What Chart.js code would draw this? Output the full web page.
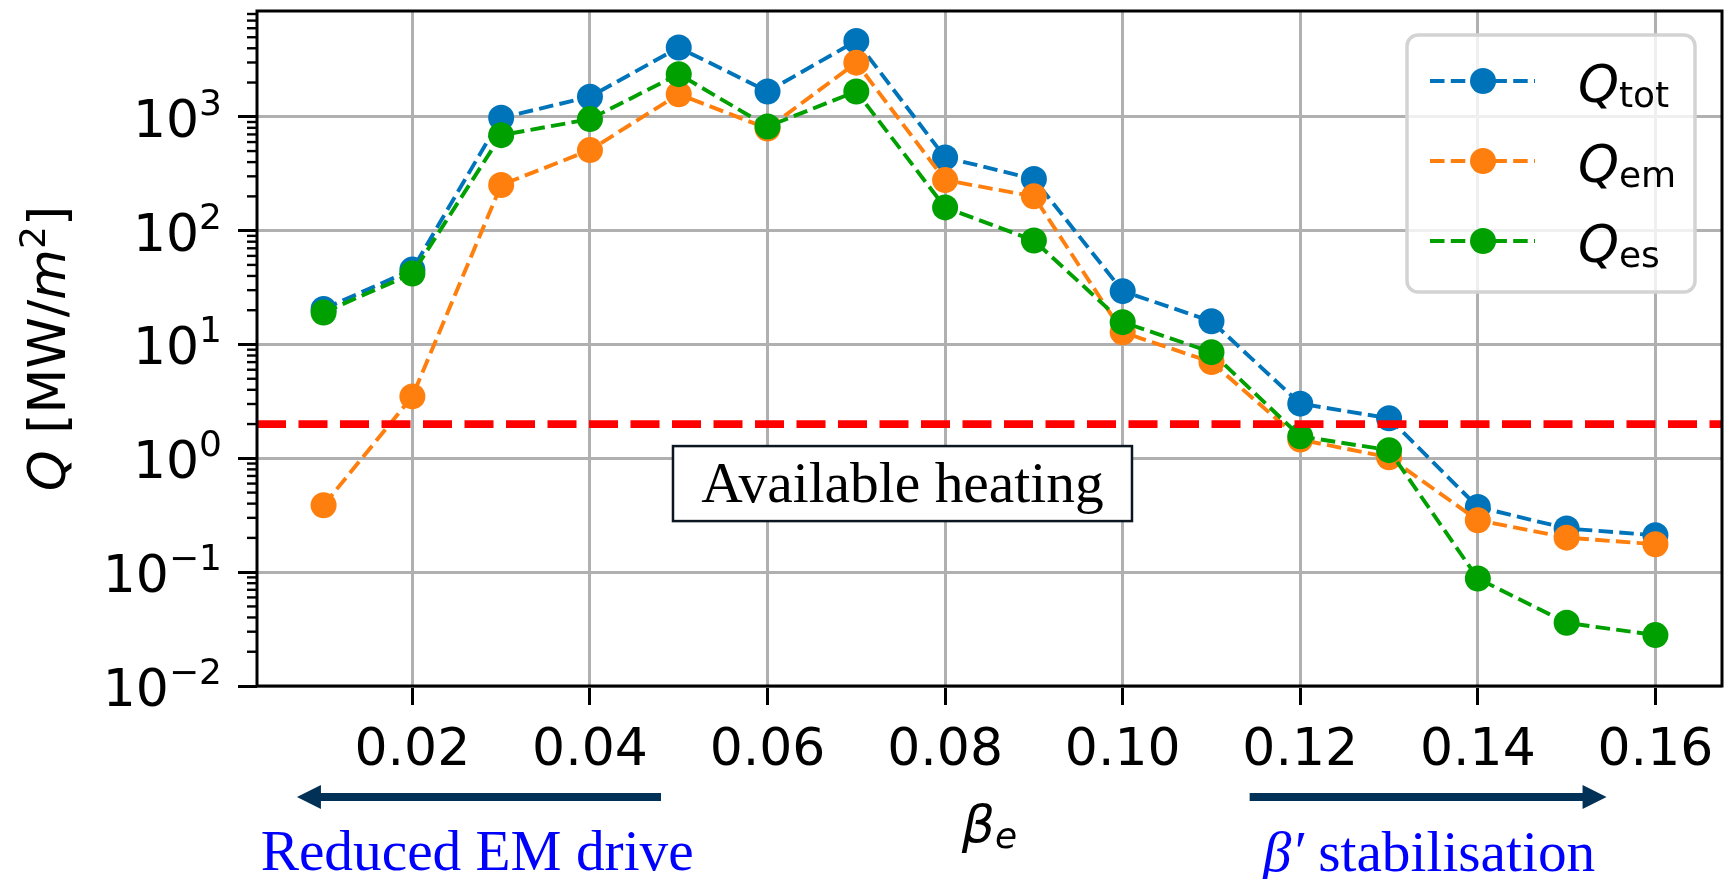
<!DOCTYPE html>
<html>
<head>
<meta charset="utf-8">
<script src="https://cdn.jsdelivr.net/npm/chart.js@4.4.1/dist/chart.umd.min.js"></script>
<style>
  html, body { margin: 0; padding: 0; background: #ffffff; }
  #wrap { width: 1725px; height: 879px; position: relative; }
  canvas { display: block; }
</style>
</head>
<body>
<div id="wrap"><canvas id="chart" width="1725" height="879"></canvas></div>
<script>
// ---------------- data ----------------
const betaE = [0.01, 0.02, 0.03, 0.04, 0.05, 0.06, 0.07, 0.08, 0.09, 0.10, 0.11, 0.12, 0.13, 0.14, 0.15, 0.16];
const Q_tot = [20.5, 45.5, 980, 1500, 4060, 1670, 4640, 440, 284, 29.4, 16.0, 3.02, 2.25, 0.374, 0.242, 0.211];
const Q_em  = [0.387, 3.5, 252, 510, 1580, 790, 2990, 278, 200, 12.8, 7.0, 1.46, 1.02, 0.286, 0.201, 0.176];
const Q_es  = [19.1, 42, 690, 955, 2370, 822, 1670, 160, 82, 15.7, 8.56, 1.56, 1.18, 0.088, 0.0359, 0.028];
const availableHeating = 2.0;

const xTicks = [0.02, 0.04, 0.06, 0.08, 0.10, 0.12, 0.14, 0.16];
const xTickLabels = ['0.02', '0.04', '0.06', '0.08', '0.10', '0.12', '0.14', '0.16'];
const yDecades = [-2, -1, 0, 1, 2, 3];
const yTickLabels = ['10', '10', '10', '10', '10', '10'];
const yTickExponents = ['\u22122', '\u22121', '0', '1', '2', '3'];

const seriesSubscripts = ['tot', 'em', 'es'];
const seriesColors = ['#0074ba', '#ff7f0e', '#00a000'];

const xRange = [0.0025, 0.1675];
const yRange = [0.01, 8500];

const annotationText = 'Available heating';
const leftNote = 'Reduced EM drive';
const rightNoteGreek = '\u03B2\u2032';
const rightNote = ' stabilisation';
// annotation anchor positions in data units
const boxAnchor = { x: 0.0752, y: 0.6 };
const leftArrow = { from: 0.0480, to: 0.0070, textAt: 0.0273 };
const rightArrow = { from: 0.1143, to: 0.1545, textAt: 0.1345 };

// ---------------- helpers ----------------
const SANS = '"DejaVu Sans", sans-serif';
const SERIF = '"Liberation Serif", "Times New Roman", serif';
const BIG = 52, SMALL = 36;

function fontOf(p) {
  return (p.italic ? 'italic ' : '') + (p.size || BIG) + 'px ' + (p.family || SANS);
}
function drawParts(ctx, parts, x, y, align, color) {
  let total = 0;
  for (const p of parts) { ctx.font = fontOf(p); p.w = ctx.measureText(p.t).width; total += p.w; }
  let cx = align === 'right' ? x - total : (align === 'center' ? x - total / 2 : x);
  ctx.textAlign = 'left';
  ctx.textBaseline = 'alphabetic';
  ctx.fillStyle = color || '#000';
  for (const p of parts) {
    ctx.font = fontOf(p);
    ctx.fillText(p.t, cx, y + (p.dy || 0));
    cx += p.w;
  }
  return total;
}
function fitSize(ctx, text, family, italic, targetInk) {
  ctx.font = (italic ? 'italic ' : '') + '100px ' + family;
  const m = ctx.measureText(text);
  const ink = (m.actualBoundingBoxRight + m.actualBoundingBoxLeft) || m.width;
  return 100 * targetInk / ink;
}
function roundRect(ctx, x, y, w, h, r) {
  ctx.beginPath();
  ctx.moveTo(x + r, y);
  ctx.lineTo(x + w - r, y);
  ctx.arcTo(x + w, y, x + w, y + r, r);
  ctx.lineTo(x + w, y + h - r);
  ctx.arcTo(x + w, y + h, x + w - r, y + h, r);
  ctx.lineTo(x + r, y + h);
  ctx.arcTo(x, y + h, x, y + h - r, r);
  ctx.lineTo(x, y + r);
  ctx.arcTo(x, y, x + r, y, r);
  ctx.closePath();
}
function arrow(ctx, x0, x1, y, color) {
  const dir = Math.sign(x1 - x0);
  const headLen = 24, headHalf = 12;
  const base = x1 - dir * headLen;
  ctx.save();
  ctx.strokeStyle = color; ctx.fillStyle = color;
  ctx.lineWidth = 8; ctx.lineCap = 'butt';
  ctx.beginPath(); ctx.moveTo(x0, y); ctx.lineTo(base + dir * 1, y); ctx.stroke();
  ctx.beginPath();
  ctx.moveTo(x1, y);
  ctx.lineTo(base, y - headHalf);
  ctx.lineTo(base, y + headHalf);
  ctx.closePath(); ctx.fill();
  ctx.restore();
}

const DASH = [14.5, 6.3];

// ---------------- decorations plugin ----------------
const decorations = {
  id: 'decorations',
  afterDatasetsDraw(chart) {
    const ctx = chart.ctx;
    const xs = chart.scales.x, ys = chart.scales.y;
    const a = chart.chartArea;
    ctx.save();

    // minor y ticks
    ctx.strokeStyle = '#000'; ctx.lineWidth = 2.4;
    for (const d of yDecades) {
      for (let k = 2; k <= 9; k++) {
        const v = k * Math.pow(10, d);
        if (v > yRange[1]) continue;
        const py = ys.getPixelForValue(v);
        ctx.beginPath(); ctx.moveTo(a.left - 10, py); ctx.lineTo(a.left, py); ctx.stroke();
      }
    }
    // spines
    ctx.lineWidth = 3; ctx.strokeStyle = '#000';
    ctx.strokeRect(a.left, a.top, a.right - a.left, a.bottom - a.top);

    // x tick labels
    xTicks.forEach((v, i) => {
      drawParts(ctx, [{ t: xTickLabels[i] }], xs.getPixelForValue(v), a.bottom + 79, 'center');
    });
    // y tick labels
    yDecades.forEach((d, i) => {
      const py = ys.getPixelForValue(Math.pow(10, d));
      drawParts(ctx, [{ t: yTickLabels[i] }, { t: yTickExponents[i], size: SMALL, dy: -22 }], a.left - 35, py + 20, 'right');
    });

    // y title
    ctx.save();
    ctx.translate(65, (a.top + a.bottom) / 2);
    ctx.rotate(-Math.PI / 2);
    drawParts(ctx, [
      { t: 'Q', italic: true }, { t: ' [MW/' }, { t: 'm', italic: true },
      { t: '2', size: SMALL, dy: -20 }, { t: ']' }
    ], 0, 0, 'center');
    ctx.restore();

    // x title
    drawParts(ctx, [{ t: '\u03B2', italic: true }, { t: 'e', size: SMALL, italic: true, dy: 6 }], (a.left + a.right) / 2, a.bottom + 156, 'center');

    // "Available heating" box
    const bx = xs.getPixelForValue(boxAnchor.x), by = ys.getPixelForValue(boxAnchor.y);
    const hs = fitSize(ctx, annotationText, SERIF, false, 402);
    ctx.font = hs + 'px ' + SERIF;
    const bw = 459, bh = 75;
    ctx.fillStyle = '#fff';
    ctx.fillRect(bx - bw / 2, by - bh / 2, bw, bh);
    ctx.lineWidth = 2.5; ctx.strokeStyle = '#0b1620';
    ctx.strokeRect(bx - bw / 2, by - bh / 2, bw, bh);
    ctx.fillStyle = '#000'; ctx.textAlign = 'center'; ctx.textBaseline = 'alphabetic';
    ctx.fillText(annotationText, bx, by + 18.5);

    // legend
    const lx = 1407, ly = 35, lw = 288, lh = 257;
    roundRect(ctx, lx, ly, lw, lh, 11);
    ctx.fillStyle = 'rgba(255,255,255,0.8)'; ctx.fill();
    ctx.lineWidth = 3.5; ctx.strokeStyle = '#d3d3d3'; ctx.stroke();
    seriesSubscripts.forEach((s, i) => {
      const ry = 81 + i * 80;
      ctx.save();
      ctx.strokeStyle = seriesColors[i]; ctx.lineWidth = 3.9; ctx.setLineDash(DASH);
      ctx.beginPath(); ctx.moveTo(1430, ry); ctx.lineTo(1535, ry); ctx.stroke();
      ctx.restore();
      ctx.fillStyle = seriesColors[i];
      ctx.beginPath(); ctx.arc(1483, ry, 13, 0, Math.PI * 2); ctx.fill();
      drawParts(ctx, [{ t: 'Q', italic: true }, { t: s, size: SMALL, dy: 5 }], 1578, ry + 21, 'left');
    });

    // arrows and notes below the axis
    const arrowY = a.bottom + 111;
    const navy = '#023157';
    arrow(ctx, xs.getPixelForValue(leftArrow.from), xs.getPixelForValue(leftArrow.to), arrowY, navy);
    arrow(ctx, xs.getPixelForValue(rightArrow.from), xs.getPixelForValue(rightArrow.to), arrowY, navy);
    const ns = fitSize(ctx, leftNote, SERIF, false, 430);
    drawParts(ctx, [{ t: leftNote, size: ns, family: SERIF }], xs.getPixelForValue(leftArrow.textAt), a.bottom + 184, 'center', '#0000ff');
    drawParts(ctx, [{ t: rightNoteGreek, size: ns, family: SERIF, italic: true }, { t: rightNote, size: ns, family: SERIF }],
      xs.getPixelForValue(rightArrow.textAt), a.bottom + 185, 'center', '#0000ff');

    ctx.restore();
  }
};

// ---------------- chart ----------------
function series(vals) { return betaE.map((x, i) => ({ x: x, y: vals[i] })); }
function lineDs(label, vals, color, order) {
  return {
    label: label, data: series(vals), order: order,
    borderColor: color, backgroundColor: color,
    borderWidth: 3.9, borderDash: DASH, tension: 0,
    pointRadius: 13, pointHoverRadius: 13, pointBorderWidth: 0,
    pointBackgroundColor: color, fill: false
  };
}

new Chart(document.getElementById('chart'), {
  type: 'line',
  data: {
    datasets: [
      lineDs('Q_tot', Q_tot, seriesColors[0], 3),
      lineDs('Q_em', Q_em, seriesColors[1], 2),
      lineDs('Q_es', Q_es, seriesColors[2], 1),
      {
        label: 'Available heating',
        data: [{ x: xRange[0], y: availableHeating }, { x: xRange[1], y: availableHeating }],
        order: 0, borderColor: '#ff0000', borderWidth: 7.8, borderDash: [29, 12.5],
        pointRadius: 0, pointHoverRadius: 0, fill: false
      }
    ]
  },
  options: {
    responsive: false,
    devicePixelRatio: 1,
    animation: false,
    events: [],
    layout: { autoPadding: false, padding: { top: 11, right: 3, left: 0, bottom: 0 } },
    plugins: { legend: { display: false }, tooltip: { enabled: false }, title: { display: false } },
    scales: {
      x: {
        type: 'linear', min: xRange[0], max: xRange[1], bounds: 'data',
        afterBuildTicks: s => { s.ticks = xTicks.map(v => ({ value: v })); },
        afterFit: s => { s.height = 879 - 686; },
        ticks: { display: false },
        border: { display: false },
        grid: { color: '#b0b0b0', lineWidth: 3, drawTicks: true, tickLength: 19, tickColor: '#000', tickWidth: 3 }
      },
      y: {
        type: 'logarithmic', min: yRange[0], max: yRange[1], bounds: 'data',
        afterBuildTicks: s => { s.ticks = yDecades.map(d => ({ value: Math.pow(10, d), major: true })); },
        afterFit: s => { s.width = 257; },
        ticks: { display: false },
        border: { display: false },
        grid: { color: '#b0b0b0', lineWidth: 3, drawTicks: true, tickLength: 19, tickColor: '#000', tickWidth: 3 }
      }
    }
  },
  plugins: [decorations]
});
</script>
</body>
</html>
